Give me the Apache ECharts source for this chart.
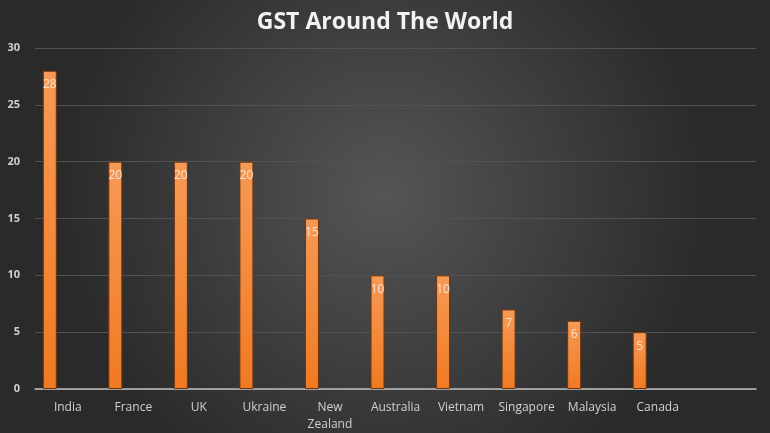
<!DOCTYPE html>
<html>
<head>
<meta charset="utf-8">
<script src="https://cdn.jsdelivr.net/npm/echarts@6/dist/echarts.min.js"></script>
<style>
html, body { margin: 0; padding: 0; }
#chart { width: 770px; height: 433px; }
</style>
</head>
<body>
<div id="chart"></div>
<script>
// 国家和税率
var countries = ['India', 'France', 'UK', 'Ukraine', 'New\nZealand', 'Australia', 'Vietnam', 'Singapore', 'Malaysia', 'Canada', ''];
var gstRates = [28, 20, 20, 20, 15, 10, 10, 7, 6, 5, null];
// Excel里的第二个空系列，只占位置
var emptyData = [];
var yTicks = { min: 0, max: 30, interval: 5 };

var chart = echarts.init(document.getElementById('chart'));
var option = {
    backgroundColor: {
        type: 'radial',
        x: 0.5, y: 0.45, r: 0.75,
        colorStops: [
            { offset: 0, color: '#555555' },
            { offset: 1, color: '#2a2a2a' }
        ]
    },
    title: {
        text: 'GST Around The World',
        left: 'center',
        top: 6,
        textStyle: {
            color: '#f2f2f2',
            fontFamily: 'Open Sans',
            fontWeight: 'bold',
            fontSize: 23
        }
    },
    grid: {
        left: 35,
        right: 14,
        top: 48,
        bottom: 42
    },
    xAxis: {
        type: 'category',
        data: countries,
        axisTick: { show: false },
        axisLine: {
            lineStyle: { color: '#bfbfbf', width: 1.5 }
        },
        axisLabel: {
            color: '#d0d0d0',
            fontFamily: 'Open Sans',
            fontSize: 12,
            margin: 10,
            lineHeight: 17,
            interval: 0
        }
    },
    yAxis: {
        type: 'value',
        min: yTicks.min,
        max: yTicks.max,
        interval: yTicks.interval,
        axisLine: { show: false },
        axisTick: { show: false },
        splitLine: {
            lineStyle: { color: '#525252', width: 1 }
        },
        axisLabel: {
            color: '#d0d0d0',
            fontFamily: 'Open Sans',
            fontWeight: 'bold',
            fontSize: 11,
            margin: 15
        }
    },
    series: [{
        name: 'GST',
        type: 'bar',
        barWidth: 14,
        barGap: '157%',
        data: gstRates,
        itemStyle: {
            color: {
                type: 'linear',
                x: 0, y: 0, x2: 0, y2: 1,
                colorStops: [
                    { offset: 0, color: '#f69a56' },
                    { offset: 1, color: '#f07a22' }
                ]
            },
            borderColor: '#6e3410',
            borderWidth: 1
        },
        label: {
            show: true,
            position: 'insideTop',
            distance: 8,
            color: '#fbe2cc',
            fontFamily: 'Open Sans',
            fontSize: 12
        }
    }, {
        name: 'empty',
        type: 'bar',
        barWidth: 14,
        data: emptyData
    }]
};
chart.setOption(option);
</script>
</body>
</html>
